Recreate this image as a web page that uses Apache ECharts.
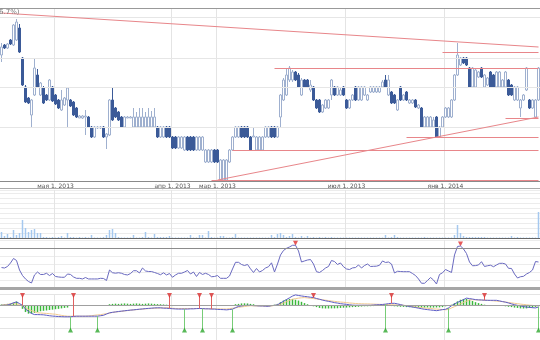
<!DOCTYPE html>
<html><head><meta charset="utf-8">
<script src="https://cdn.jsdelivr.net/npm/echarts@6/dist/echarts.min.js"></script>
<style>html,body{margin:0;padding:0;background:#fff}#c{width:540px;height:340px}</style>
</head><body><div id="c"></div>
<script>
// [open, close, low, high]
const candles = [
[32.6,33.4,31.9,33.8],[33.6,33.3,33.2,33.7],[33.3,33.7,33.2,33.8],[34.1,33.7,33.6,34.2],[33.6,35.6,33.5,35.7],
[34.1,35.9,34.0,36.2],[35.3,32.9,32.8,35.7],[32.3,29.6,29.5,32.4],[29.4,27.9,27.8,29.6],[28.3,27.8,27.7,28.4],
[26.6,28.1,25.4,28.2],[28.6,31.3,28.5,32.3],[30.6,29.4,29.3,31.2],[28.6,29.8,28.5,29.9],[29.3,27.8,27.7,29.5],
[28.6,28.1,28.0,28.7],[28.1,30.1,28.0,30.2],[29.4,28.0,27.9,29.5],[28.6,27.7,27.6,28.7],[28.1,27.3,27.2,28.2],
[27.1,28.1,27.0,29.1],[27.6,28.3,27.5,28.4],[28.1,29.3,25.4,29.4],[28.1,27.5,27.4,28.2],[27.9,26.6,26.5,28.0],
[27.3,26.4,26.3,27.4],[26.3,26.5,26.3,26.6],[26.3,26.5,26.2,26.6],[26.4,26.5,24.6,27.1],[26.4,25.4,25.3,26.5],
[25.4,24.4,24.3,25.5],[24.4,25.4,24.3,25.5],[25.3,25.4,25.2,25.5],[25.3,25.4,25.2,25.5],[25.4,24.4,24.3,25.5],
[24.4,24.7,23.2,24.8],[24.6,28.1,24.5,28.2],[28.1,26.1,26.0,29.4],[27.3,26.4,26.3,27.4],[26.9,26.1,26.0,27.0],
[26.4,25.4,25.3,26.5],[25.4,26.4,25.3,26.5],[26.3,26.4,26.3,26.5],[26.3,26.4,26.3,26.5],[25.4,26.4,25.3,27.3],
[25.4,26.4,25.3,26.9],[25.4,26.4,25.3,27.3],[25.4,26.4,25.3,27.3],[25.4,26.4,25.3,26.9],[25.4,26.4,25.3,27.3],
[25.4,26.4,25.3,27.0],[25.4,26.4,25.3,27.3],[25.4,24.4,24.3,25.5],[24.4,25.4,24.3,25.5],[24.4,25.4,24.3,25.5],
[25.4,24.4,24.3,25.5],[25.4,24.4,24.3,25.5],[24.4,23.3,23.2,24.5],[24.4,23.3,23.2,24.5],[23.3,24.4,23.2,24.5],
[23.3,24.4,23.2,24.5],[23.1,24.4,23.0,24.5],[24.4,23.1,23.0,24.5],[24.4,23.1,23.0,24.5],[24.4,23.1,23.0,24.5],
[23.1,24.4,23.0,24.5],[23.1,24.4,23.0,24.5],[23.1,24.4,23.0,24.5],[21.9,23.1,21.8,23.2],[21.9,23.1,21.8,23.2],
[21.9,23.1,21.8,23.2],[23.1,21.9,21.8,23.2],[23.1,21.9,21.8,23.2],[20.1,22.1,20.0,22.2],[20.1,22.1,20.0,22.2],
[20.1,22.1,20.0,22.2],[21.9,23.1,21.8,23.2],[23.1,24.4,23.0,24.5],[24.4,25.4,24.3,25.5],[24.4,25.4,24.3,25.5],
[25.4,24.4,24.3,25.5],[25.4,24.4,24.3,25.5],[25.4,24.4,24.3,25.5],[24.4,23.1,23.0,24.5],[24.4,24.5,24.4,25.4],
[23.1,24.4,23.0,24.5],[23.1,24.4,23.0,24.5],[23.1,24.4,23.0,24.5],[24.4,25.4,24.3,25.5],[24.4,25.4,24.3,25.5],
[25.4,24.4,24.3,25.5],[25.4,24.4,24.3,25.5],[24.4,25.4,24.3,25.5],[26.4,28.6,25.4,28.7],[28.1,30.1,28.0,30.3],
[28.6,30.6,28.5,31.3],[30.1,31.3,29.9,31.5],[30.1,30.9,29.9,31.1],[30.9,30.1,30.0,31.0],[30.6,29.4,29.3,30.8],
[28.6,30.1,28.5,30.3],[30.1,29.4,29.3,30.2],[30.1,29.4,29.3,30.2],[29.1,29.6,28.9,30.1],[29.4,28.1,28.0,29.5],
[28.1,27.3,27.2,28.2],[28.1,26.9,26.8,28.2],[26.9,27.6,26.8,27.7],[27.3,28.1,27.2,28.2],[27.3,28.1,27.2,28.2],
[28.6,30.1,28.1,30.2],[29.4,28.6,28.5,29.5],[28.6,29.4,28.5,29.5],[28.6,29.1,28.5,29.4],[29.4,28.6,28.5,29.5],
[28.1,27.3,27.2,28.2],[27.3,28.1,27.2,28.2],[28.1,28.6,28.0,28.7],[29.4,28.1,28.0,29.5],[28.1,29.4,28.0,29.5],
[28.1,29.4,28.0,29.5],[28.6,29.4,28.5,29.5],[28.1,28.6,28.0,28.7],[28.9,29.4,28.8,29.5],[28.9,29.4,28.8,29.5],
[28.9,29.4,28.8,29.5],[28.9,29.4,28.8,29.5],[29.4,29.9,29.3,30.1],[30.1,29.4,29.3,30.6],[28.6,30.1,28.5,30.6],
[28.9,27.8,27.7,29.0],[28.6,27.8,27.7,28.7],[27.1,28.1,27.0,28.2],[29.4,28.1,28.0,29.5],[28.1,28.6,28.0,28.7],
[28.9,28.1,28.0,29.0],[27.8,28.1,27.7,28.2],[27.8,28.1,27.7,28.2],[28.1,27.4,27.3,28.2],[27.3,27.6,27.2,27.7],
[27.3,25.4,25.3,27.4],[25.4,26.4,25.3,26.5],[25.4,26.4,25.3,26.5],[25.4,26.4,25.3,26.5],[25.4,26.1,25.3,26.4],
[26.4,24.4,24.3,26.5],[24.4,25.4,24.3,25.5],[25.4,26.4,25.3,26.5],[26.4,27.3,26.3,27.4],[26.4,27.3,26.3,27.4],
[26.4,28.1,26.3,28.2],[28.1,30.6,28.0,30.7],[30.6,32.6,30.5,33.8],[31.6,32.3,31.5,32.4],[32.3,31.8,31.7,32.4],
[32.3,31.6,31.5,32.4],[31.3,29.4,29.3,31.4],[29.4,31.3,29.3,31.4],[29.4,31.1,29.3,31.2],[30.4,30.9,30.3,31.0],
[31.3,30.4,30.3,31.4],[29.4,30.6,29.3,30.7],[29.6,30.3,29.5,30.4],[30.9,29.4,29.3,31.0],[30.6,29.4,29.3,30.7],
[29.4,30.9,29.3,31.0],[29.4,30.9,29.3,31.0],[29.4,30.1,29.3,30.2],[29.4,30.9,29.3,31.0],[30.1,28.6,28.5,30.2],
[29.6,28.6,28.5,29.7],[28.1,29.4,28.0,29.5],[28.1,29.4,28.0,29.5],[27.3,28.1,26.4,28.2],[28.1,28.6,28.0,28.7],
[29.1,31.3,29.0,31.4],[28.1,27.3,27.2,28.2],[27.3,28.1,27.2,28.2],[26.4,28.1,26.3,28.2],[28.1,31.3,28.0,31.4]
];
const volume = [
60,20,40,10,80,30,50,180,100,60,80,90,50,50,10,
10,5,10,5,10,20,5,50,10,10,5,10,5,10,5,
30,5,5,5,10,30,80,90,50,10,5,5,5,5,30,5,5,10,60,10,
5,40,10,10,10,10,20,5,5,5,5,5,5,30,5,5,30,30,5,70,
10,5,5,20,20,5,5,10,40,5,5,5,5,5,5,5,5,5,5,5,
30,10,40,50,30,10,20,40,10,5,20,5,20,5,10,5,10,5,10,5,
10,5,5,5,5,5,5,5,5,5,5,5,5,5,5,5,5,5,30,5,
10,30,10,5,5,5,5,5,5,5,5,10,5,5,5,5,5,5,5,5,
5,30,130,50,20,10,10,10,10,10,10,10,5,5,5,5,5,5,5,5,
20,5,10,5,5,5,5,5,5,260
];
const rsi = [
45.6,45,46.9,51.3,56.9,54.4,42.5,35.6,31.3,28.1,
26.3,36.3,40,36.9,36.9,38.4,35.6,38.1,34.4,33.8,
33.4,33.4,37.5,36.9,33.8,32.1,32.1,31.3,33.1,31.3,
31.3,31.3,31.3,32.1,31.9,29.4,42.5,39.1,38.5,39.1,
38.4,36.9,36.3,38.1,41.6,41.6,38.8,45,41.3,40.6,
40.6,39.4,38.1,36.6,39,36.3,38.1,33.4,36.3,38.4,
38.4,40,41.9,37.5,40,34.4,39.4,36.9,38.4,36.9,
34.1,34.4,35.6,32.1,32.1,32.1,35,43.8,52.1,52.1,
49.4,48.1,49.4,44,39.4,44.4,40,41.9,45,46.6,
51.5,40,50,61.3,66.9,69.6,71.3,73.4,73.4,66.3,
52.5,53.8,55,55.6,50,40.4,39.4,41.9,45,46.9,
54.4,53.1,49.4,51.3,46.6,43.8,43.1,45.1,45.6,48.8,
45,48.1,50,46.9,47.1,47.3,48.4,53.8,51.9,52.5,
50,38.8,40.9,40.6,40.4,40.4,40.4,38.1,35.6,31.3,
25.9,25.9,29.4,33.1,30,25,36.9,39,43.1,41.3,
39.4,61.3,71.9,72.5,68.8,63.1,52.5,47.8,48,48.8,
52.9,46.9,47.8,48.5,46.6,48.8,50.8,50.9,50,44.6,
44.4,37.5,32.5,34.1,34.6,37.5,39.4,42.5,53.1,52.5
];
const macd = [
0.02,0.02,0.04,0.13,0.23,0.31,0.17,0.01,-0.30,-0.51,
-0.69,-0.79,-0.79,-0.80,-0.81,-0.85,-0.89,-0.92,-0.94,-0.96,
-0.97,-0.98,-0.98,-0.98,-0.95,-0.93,-0.93,-0.93,-0.93,-0.93,
-0.93,-0.93,-0.93,-0.89,-0.85,-0.74,-0.64,-0.59,-0.56,-0.52,
-0.49,-0.46,-0.43,-0.40,-0.38,-0.35,-0.32,-0.30,-0.27,-0.25,
-0.23,-0.21,-0.20,-0.20,-0.23,-0.24,-0.26,-0.28,-0.30,-0.31,
-0.31,-0.31,-0.31,-0.29,-0.29,-0.27,-0.26,-0.27,-0.29,-0.29,
-0.31,-0.31,-0.34,-0.35,-0.36,-0.38,-0.35,-0.32,-0.19,-0.08,
-0.04,0,0.02,0.01,-0.01,-0.02,-0.04,-0.04,-0.06,-0.07,
-0.01,0.01,0.06,0.22,0.37,0.52,0.67,0.82,0.92,0.87,
0.83,0.79,0.76,0.72,0.69,0.61,0.54,0.47,0.41,0.36,
0.31,0.25,0.21,0.16,0.13,0.10,0.06,0.03,0.02,0.02,
0.02,0.02,0.02,0.02,0.04,0.06,0.07,0.09,0.12,0.16,
0.19,0.19,0.14,0.08,0.01,-0.04,-0.09,-0.13,-0.18,-0.23,
-0.28,-0.33,-0.36,-0.39,-0.42,-0.45,-0.41,-0.36,-0.33,-0.21,
-0.02,0.14,0.27,0.39,0.51,0.64,0.60,0.56,0.51,0.49,
0.48,0.46,0.45,0.45,0.45,0.45,0.40,0.34,0.29,0.22,
0.14,0.07,0.01,-0.04,-0.09,-0.14,-0.16,-0.19,-0.21,-0.13
];
const signal = [
0.04,0.07,0.10,0.14,0.16,0.13,0.10,-0.04,-0.20,-0.34,
-0.44,-0.54,-0.63,-0.65,-0.67,-0.69,-0.71,-0.74,-0.76,-0.81,
-0.86,-0.90,-0.93,-0.93,-0.93,-0.93,-0.93,-0.93,-0.93,-0.91,
-0.89,-0.85,-0.82,-0.80,-0.75,-0.71,-0.66,-0.61,-0.56,-0.54,
-0.51,-0.47,-0.44,-0.41,-0.38,-0.36,-0.34,-0.31,-0.29,-0.27,
-0.26,-0.24,-0.23,-0.22,-0.21,-0.19,-0.21,-0.24,-0.26,-0.26,
-0.26,-0.26,-0.26,-0.26,-0.26,-0.26,-0.26,-0.27,-0.28,-0.28,
-0.29,-0.29,-0.29,-0.30,-0.30,-0.31,-0.27,-0.24,-0.20,-0.16,
-0.12,-0.09,-0.05,-0.02,-0.03,-0.04,-0.04,-0.05,-0.06,-0.06,
-0.04,0.01,0.05,0.11,0.22,0.33,0.44,0.54,0.60,0.64,
0.67,0.69,0.66,0.63,0.60,0.57,0.54,0.50,0.46,0.43,
0.39,0.36,0.33,0.30,0.28,0.25,0.22,0.20,0.17,0.16,
0.15,0.14,0.14,0.13,0.12,0.11,0.10,0.09,0.09,0.08,
0.06,0.06,0.04,0.04,0.02,-0.01,-0.05,-0.09,-0.12,-0.16,
-0.19,-0.22,-0.24,-0.26,-0.29,-0.31,-0.33,-0.35,-0.37,-0.34,
-0.21,-0.10,0.01,0.14,0.26,0.37,0.49,0.50,0.49,0.48,
0.47,0.46,0.45,0.43,0.41,0.38,0.36,0.34,0.30,0.26,
0.23,0.19,0.16,0.12,0.09,0.06,0.03,0.01,-0.02,-0.02
];
const hist = [
0.09,0.11,0.14,0.16,0.25,0.34,0.05,-0.29,-0.57,-0.71,
-0.71,-0.64,-0.57,-0.5,-0.46,-0.43,-0.39,-0.36,-0.32,-0.29,
-0.25,-0.21,-0.18,-0.04,-0.03,0.02,0.03,0.02,-0.03,-0.02,
0.02,0.03,0.02,0.03,0.02,0.04,0.11,0.14,0.16,0.14,
0.16,0.18,0.16,0.14,0.16,0.18,0.16,0.14,0.16,0.18,
0.16,0.14,0.12,0.11,0.09,0.07,-0.04,-0.05,-0.04,0.03,
-0.03,0.03,0.04,-0.03,0.03,-0.03,0.04,-0.03,0.03,-0.04,
0.03,-0.03,0.02,-0.03,0.03,0.02,0.03,0.04,0.11,0.14,
0.18,0.19,0.18,0.14,0.11,0.04,0.03,-0.03,0.02,-0.02,
0.03,0.07,0.14,0.29,0.43,0.54,0.57,0.57,0.5,0.43,
0.32,0.21,0.11,0.04,-0.07,-0.14,-0.21,-0.25,-0.26,-0.26,
-0.25,-0.25,-0.24,-0.21,-0.19,-0.18,-0.16,-0.14,-0.13,-0.11,
-0.09,-0.07,-0.07,-0.06,-0.05,-0.04,-0.04,-0.02,-0.02,-0.04,
-0.05,-0.07,-0.09,-0.11,-0.12,-0.14,-0.15,-0.16,-0.17,-0.18,
-0.18,-0.18,-0.17,-0.18,-0.18,-0.17,-0.16,-0.14,-0.07,-0.04,
0.07,0.21,0.36,0.5,0.57,0.57,0.5,0.39,0.29,0.21,
0.14,0.07,0.03,0.02,-0.02,0.02,-0.02,-0.04,-0.07,-0.11,
-0.14,-0.18,-0.21,-0.25,-0.26,-0.25,-0.21,-0.18,-0.14,-0.07
];
const tickIdx = [18, 57, 72, 115, 148];
const tickLabels = ['мая 1, 2013', 'апр 1, 2013', 'мар 1, 2013', 'июл 1, 2013', 'янв 1, 2014'];
const priceGridLines = [36.4, 32.3, 29.4, 25.4];
// [startIndex, startPrice, endIndex, endPrice]
const trendLines = [
  [0, 36.8, 179, 33.4],
  [91, 31.3, 179, 31.3],
  [147, 32.9, 179, 32.9],
  [77, 23.1, 179, 23.1],
  [135, 24.4, 179, 24.4],
  [168, 26.3, 179, 26.3],
  [72, 20.1, 179, 26.4],
  [70, 20.1, 179, 20.1]
];
const sellIdx = [7, 24, 56, 66, 70, 104, 130, 161];
const buyIdx = [23, 32, 61, 67, 77, 128, 149, 179];
const rsiPeakIdx = [98, 153];
const sellTop = 0.86, buyBottom = -2.14, rsiLevel = 70;

const cats = candles.map((_, i) => String(i));
const tickSet = new Set(tickIdx);
const vLine = { show: true, interval: (i) => tickSet.has(i), lineStyle: { color: '#e4e4e4', width: 1 } };

function xAx(gi, extra) {
  return Object.assign({
    type: 'category', gridIndex: gi, data: cats, boundaryGap: true,
    axisLine: { show: false }, axisTick: { show: false }, axisLabel: { show: false },
    splitLine: vLine
  }, extra || {});
}
function yAx(gi, extra) {
  return Object.assign({
    type: 'value', gridIndex: gi, scale: true,
    axisLine: { show: false }, axisTick: { show: false }, axisLabel: { show: false },
    splitLine: { show: true, lineStyle: { color: '#ececec', width: 1 } }
  }, extra || {});
}

const chart = echarts.init(document.getElementById('c'), null, { renderer: 'canvas' });
chart.setOption({
  animation: false,
  backgroundColor: '#fff',
  grid: [
    { left: 0, right: 0, top: 8, height: 173 },
    { left: 0, right: 0, top: 190, height: 48 },
    { left: 0, right: 0, top: 240, height: 48 },
    { left: 0, right: 0, top: 294, height: 56 }
  ],
  xAxis: [
    xAx(0, {
      axisLine: { show: true, lineStyle: { color: '#8a8a8a', width: 1 } },
      axisLabel: {
        show: true, interval: (i) => tickSet.has(i), margin: 2,
        fontSize: 6, color: '#555', fontFamily: 'DejaVu Sans',
        formatter: (v, i) => tickLabels[tickIdx.indexOf(i)] || ''
      }
    }),
    xAx(1, { axisLine: { show: true, lineStyle: { color: '#666', width: 1 } } }),
    xAx(2),
    xAx(3)
  ],
  yAxis: [
    yAx(0, { min: 20, max: 37.3, splitLine: { show: false } }),
    yAx(1, { min: 0, max: 480, interval: 50 }),
    yAx(2, { min: 20, max: 80, interval: 10 }),
    yAx(3, { min: -3, max: 1, interval: 1, splitLine: { show: true, lineStyle: { color: '#e4e4e4' } } })
  ],
  graphic: [
    { type: 'line', z: 100, shape: { x1: 0, y1: 8.5, x2: 540, y2: 8.5 }, style: { stroke: '#999', lineWidth: 1 } },
    { type: 'line', z: 100, shape: { x1: 0, y1: 188.5, x2: 540, y2: 188.5 }, style: { stroke: '#aaa', lineWidth: 1 } },
    { type: 'rect', z: 100, shape: { x: 0, y: 287, width: 540, height: 3 }, style: { fill: '#a6a6a6' } },
    { type: 'text', z: 100, left: -1, top: 9, style: { text: '6.7%)', fontSize: 7, fill: '#777', fontFamily: 'DejaVu Sans' } }
  ],
  series: [
    {
      type: 'line', xAxisIndex: 0, yAxisIndex: 0, data: [], z: 1, silent: true,
      markLine: {
        silent: true, symbol: 'none', label: { show: false }, animation: false,
        lineStyle: { color: '#e6e6e6', width: 1, type: 'solid' },
        data: priceGridLines.map(p => ({ yAxis: p }))
      }
    },
    {
      type: 'candlestick', xAxisIndex: 0, yAxisIndex: 0, data: candles, barWidth: 3, z: 3,
      itemStyle: { color: '#ffffff', color0: '#3b5a98', borderColor: '#9fb0cf', borderColor0: '#3b5a98', borderWidth: 1 },
      markLine: {
        silent: true, symbol: 'none', label: { show: false }, animation: false,
        lineStyle: { color: '#e8868a', width: 1, type: 'solid' },
        data: trendLines.map(t => [{ coord: [t[0], t[1]] }, { coord: [t[2], t[3]] }])
      }
    },
    {
      type: 'bar', xAxisIndex: 1, yAxisIndex: 1, data: volume, barWidth: 1.5,
      itemStyle: { color: '#a5c8ef' }
    },
    {
      type: 'line', xAxisIndex: 2, yAxisIndex: 2, data: rsi, symbol: 'none',
      lineStyle: { color: '#6a6ac0', width: 1 },
      markLine: {
        silent: true, symbol: 'none', label: { show: false }, animation: false,
        lineStyle: { color: '#8c8c8c', width: 1, type: 'solid' },
        data: [{ yAxis: rsiLevel }]
      }
    },
    {
      type: 'scatter', xAxisIndex: 2, yAxisIndex: 2, symbol: 'triangle', symbolRotate: 180, symbolSize: 5,
      symbolOffset: [0, -2], itemStyle: { color: '#e03030' },
      data: rsiPeakIdx.map(i => [i, rsi[i]])
    },
    {
      type: 'bar', xAxisIndex: 3, yAxisIndex: 3, data: hist, barWidth: 1.5,
      itemStyle: { color: '#3cb83c' }
    },
    {
      type: 'line', xAxisIndex: 3, yAxisIndex: 3, data: signal, symbol: 'none',
      lineStyle: { color: '#f2c98e', width: 1 }
    },
    {
      type: 'line', xAxisIndex: 3, yAxisIndex: 3, data: macd, symbol: 'none', z: 4,
      lineStyle: { color: '#5d5dc6', width: 1 },
      markLine: {
        silent: true, symbol: 'none', label: { show: false }, animation: false,
        lineStyle: { width: 1, type: 'solid' },
        data: [{ yAxis: 0, lineStyle: { color: '#a0a0a0' } }]
          .concat(sellIdx.map(i => [{ coord: [i, sellTop], lineStyle: { color: '#e06060' } }, { coord: [i, macd[i]] }]))
          .concat(buyIdx.map(i => [{ coord: [i, buyBottom], lineStyle: { color: '#77cc77' } }, { coord: [i, macd[i]] }]))
      }
    },
    {
      type: 'scatter', xAxisIndex: 3, yAxisIndex: 3, symbol: 'triangle', symbolRotate: 180, symbolSize: 5, z: 5,
      itemStyle: { color: '#d83030' }, data: sellIdx.map(i => [i, sellTop])
    },
    {
      type: 'scatter', xAxisIndex: 3, yAxisIndex: 3, symbol: 'triangle', symbolSize: 5, z: 5,
      itemStyle: { color: '#2fa82f' }, data: buyIdx.map(i => [i, buyBottom])
    }
  ]
});
</script>
</body></html>
